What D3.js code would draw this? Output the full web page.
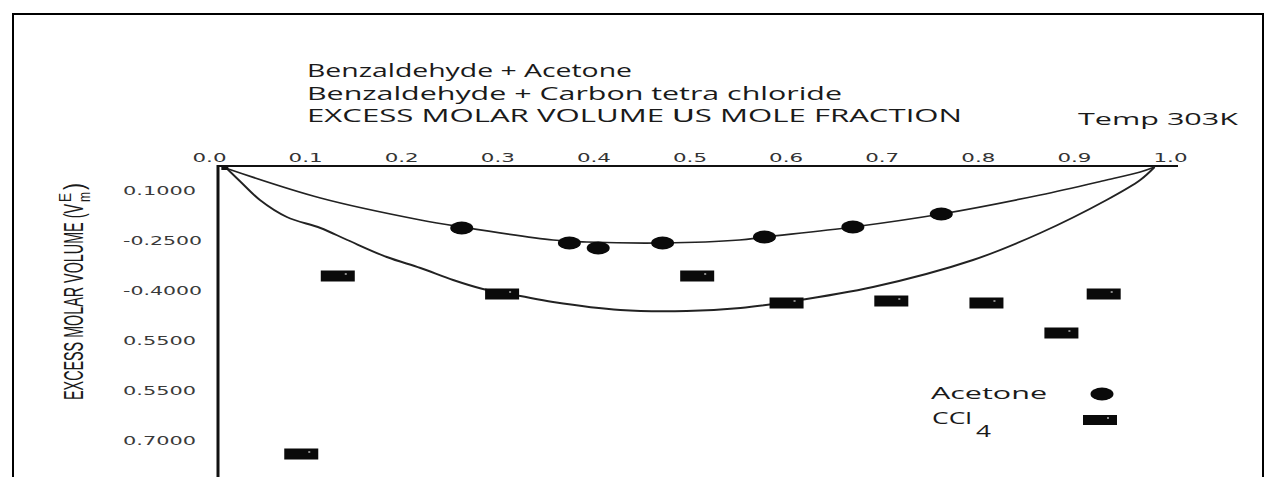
<!DOCTYPE html>
<html><head><meta charset="utf-8">
<script src="https://cdn.jsdelivr.net/npm/d3@7"></script>
<style>html,body{margin:0;padding:0;background:#fff;} svg{display:block;}</style>
</head><body>
<svg id="chart" width="1276" height="477"></svg>
<script>
// ---------- data ----------
const xTickValues = [0.0, 0.1, 0.2, 0.3, 0.4, 0.5, 0.6, 0.7, 0.8, 0.9, 1.0];
const xTickLabels = ["0.0","0.1","0.2","0.3","0.4","0.5","0.6","0.7","0.8","0.9","1.0"];
const yTickValues = [-0.10, -0.25, -0.40, -0.55, -0.70, -0.85];
const yTickLabels = ["0.1000","-0.2500","-0.4000","0.5500","0.5500","0.7000"];

const acetoneX = [0.263, 0.375, 0.405, 0.472, 0.578, 0.670, 0.762];
const acetoneY = [-0.214, -0.259, -0.274, -0.259, -0.241, -0.211, -0.172];

const ccl4X = [0.096, 0.134, 0.305, 0.508, 0.601, 0.710, 0.809, 0.887, 0.931];
const ccl4Y = [-0.892, -0.358, -0.412, -0.358, -0.439, -0.433, -0.439, -0.529, -0.412];

const acetoneCurveX = [0.017, 0.116, 0.220, 0.263, 0.358, 0.393, 0.472, 0.552, 0.578, 0.670, 0.762, 0.865, 0.934, 0.969, 0.984];
const acetoneCurveY = [-0.034, -0.124, -0.190, -0.211, -0.250, -0.256, -0.259, -0.250, -0.241, -0.211, -0.172, -0.115, -0.070, -0.046, -0.031];

const ccl4CurveX = [0.018, 0.032, 0.053, 0.081, 0.116, 0.144, 0.185, 0.220, 0.254, 0.285, 0.324, 0.358, 0.428, 0.497, 0.553, 0.601, 0.691, 0.795, 0.865, 0.934, 0.969, 0.984];
const ccl4CurveY = [-0.034, -0.073, -0.130, -0.181, -0.214, -0.250, -0.301, -0.334, -0.370, -0.397, -0.418, -0.436, -0.460, -0.463, -0.454, -0.436, -0.391, -0.310, -0.229, -0.130, -0.070, -0.031];

const titleLines = ["Benzaldehyde + Acetone", "Benzaldehyde + Carbon tetra chloride", "EXCESS MOLAR VOLUME \u144CS MOLE FRACTION"];
const tempLabel = "Temp 303K";
const legendLabels = ["Acetone", "CCl"];

// ---------- drawing ----------
const svg = d3.select("#chart");
const W = 1276, H = 477;
svg.append("rect").attr("width", W).attr("height", H).attr("fill", "#fff");

const x = d3.scaleLinear().domain([0, 1]).range([209, 1170]);
const y = d3.scaleLinear().domain([-0.10, -0.85]).range([190, 440]);

// frame
svg.append("path").attr("d", `M13,${H} L13,14 L1263,14 L1263,${H}`)
  .attr("fill", "none").attr("stroke", "#000").attr("stroke-width", 2);

// titles
const titleW = [325, 535, 655];
const titleB = [77, 100, 122];
svg.selectAll("text.title").data(titleLines).join("text")
  .attr("class", "title")
  .attr("x", 307).attr("y", (d, i) => titleB[i])
  .attr("textLength", (d, i) => titleW[i]).attr("lengthAdjust", "spacingAndGlyphs")
  .attr("font-family", "'Open Sans', 'DejaVu Sans', sans-serif").attr("font-size", 17.5)
  .attr("fill", "#1a1a1a").text(d => d);

svg.append("text").attr("x", 1078).attr("y", 125)
  .attr("textLength", 160).attr("lengthAdjust", "spacingAndGlyphs")
  .attr("font-family", "'Open Sans', sans-serif").attr("font-size", 17)
  .attr("fill", "#1a1a1a").text(tempLabel);

// x axis (top)
const xAxis = d3.axisTop(x).tickValues(xTickValues).tickFormat((d, i) => xTickLabels[i]).tickSize(0).tickPadding(0);
const gx = svg.append("g").attr("transform", "translate(0,166)").call(xAxis);
gx.select(".domain").remove();
gx.selectAll("text")
  .attr("y", -4).attr("dy", 0)
  .attr("font-family", "'DejaVu Sans', sans-serif").attr("font-size", 13)
  .attr("fill", "#333")
  .attr("textLength", 34).attr("lengthAdjust", "spacingAndGlyphs");
svg.append("line").attr("x1", 217).attr("x2", 1178).attr("y1", 166).attr("y2", 166)
  .attr("stroke", "#111").attr("stroke-width", 2);

// y axis (left)
const yAxis = d3.axisLeft(y).tickValues(yTickValues).tickFormat((d, i) => yTickLabels[i]).tickSize(0).tickPadding(0);
const gy = svg.append("g").attr("transform", "translate(0,0)").call(yAxis);
gy.select(".domain").remove();
gy.selectAll("text")
  .attr("x", 123).attr("dy", "0.36em").attr("text-anchor", "start")
  .attr("font-family", "'DejaVu Sans', sans-serif").attr("font-size", 12.5)
  .attr("fill", "#3a3a3a")
  .attr("textLength", (d, i) => yTickLabels[i].startsWith("-") ? 79 : 73)
  .attr("lengthAdjust", "spacingAndGlyphs");
svg.append("line").attr("x1", 218).attr("x2", 218).attr("y1", 165).attr("y2", H)
  .attr("stroke", "#111").attr("stroke-width", 3);

// y axis title (rotated)
const yt = svg.append("g").attr("transform", "translate(83,400) rotate(-90)");
const ytFont = "'Liberation Sans Narrow', 'Liberation Sans', Arial, sans-serif";
yt.append("text").attr("x", 0).attr("y", 0)
  .attr("textLength", 196).attr("lengthAdjust", "spacingAndGlyphs")
  .attr("font-family", ytFont).attr("font-size", 28).attr("fill", "#1a1a1a")
  .text("EXCESS MOLAR VOLUME (V");
yt.append("text").attr("x", 198).attr("y", -12)
  .attr("textLength", 9).attr("lengthAdjust", "spacingAndGlyphs")
  .attr("font-family", ytFont).attr("font-size", 16).attr("fill", "#1a1a1a").text("E");
yt.append("text").attr("x", 198).attr("y", 7)
  .attr("textLength", 10).attr("lengthAdjust", "spacingAndGlyphs")
  .attr("font-family", ytFont).attr("font-size", 16).attr("fill", "#1a1a1a").text("m");
yt.append("text").attr("x", 210).attr("y", 0)
  .attr("textLength", 7).attr("lengthAdjust", "spacingAndGlyphs")
  .attr("font-family", ytFont).attr("font-size", 28).attr("fill", "#1a1a1a").text(")");

// curves
const line = d3.line().x(d => x(d[0])).y(d => y(d[1])).curve(d3.curveCatmullRom.alpha(0.5));
svg.append("path").datum(acetoneCurveX.map((v, i) => [v, acetoneCurveY[i]]))
  .attr("d", line).attr("fill", "none").attr("stroke", "#222").attr("stroke-width", 1.7);
svg.append("path").datum(ccl4CurveX.map((v, i) => [v, ccl4CurveY[i]]))
  .attr("d", line).attr("fill", "none").attr("stroke", "#222").attr("stroke-width", 1.9);
// corner start
svg.append("rect").attr("x", x(acetoneCurveX[0]) - 4).attr("y", y(acetoneCurveY[0]) - 2)
  .attr("width", 7).attr("height", 4).attr("fill", "#111");

// acetone markers
svg.selectAll("ellipse.ac").data(acetoneX.map((v, i) => [v, acetoneY[i]])).join("ellipse")
  .attr("class", "ac").attr("cx", d => x(d[0])).attr("cy", d => y(d[1]))
  .attr("rx", 11.5).attr("ry", 6.5).attr("fill", "#0a0a0a");

// CCl4 markers
const cg = svg.selectAll("g.cc").data(ccl4X.map((v, i) => [v, ccl4Y[i]])).join("g")
  .attr("class", "cc").attr("transform", d => `translate(${x(d[0])},${y(d[1])})`);
cg.append("rect").attr("x", -17).attr("y", -5.5).attr("width", 34).attr("height", 11).attr("fill", "#0a0a0a");
cg.append("rect").attr("x", 7).attr("y", -3).attr("width", 2).attr("height", 2).attr("fill", "#888");

// legend
svg.append("text").attr("x", 931).attr("y", 399)
  .attr("textLength", 116).attr("lengthAdjust", "spacingAndGlyphs")
  .attr("font-family", "'Open Sans', sans-serif").attr("font-size", 16).attr("fill", "#1a1a1a")
  .text(legendLabels[0]);
svg.append("text").attr("x", 932).attr("y", 424)
  .attr("textLength", 40).attr("lengthAdjust", "spacingAndGlyphs")
  .attr("font-family", "'Open Sans', sans-serif").attr("font-size", 16).attr("fill", "#1a1a1a")
  .text(legendLabels[1]);
svg.append("text").attr("x", 976).attr("y", 437)
  .attr("textLength", 15).attr("lengthAdjust", "spacingAndGlyphs")
  .attr("font-family", "'Open Sans', sans-serif").attr("font-size", 16).attr("fill", "#1a1a1a")
  .text("4");
svg.append("ellipse").attr("cx", 1102).attr("cy", 394).attr("rx", 11.5).attr("ry", 6.5).attr("fill", "#0a0a0a");
svg.append("rect").attr("x", 1083).attr("y", 415).attr("width", 34).attr("height", 10).attr("fill", "#0a0a0a");
svg.append("rect").attr("x", 1107).attr("y", 417).attr("width", 2).attr("height", 2).attr("fill", "#888");
</script>
</body></html>
